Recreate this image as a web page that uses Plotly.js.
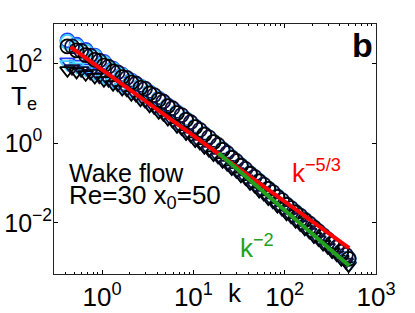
<!DOCTYPE html>
<html>
<head>
<meta charset="utf-8">
<script src="https://cdn.plot.ly/plotly-3.0.1.min.js"></script>
<style>html,body{margin:0;padding:0;background:#fff;}#chart{width:415px;height:313px;}</style>
</head>
<body>
<div id="chart"></div>
<script>
// wavenumber k grids
const kVals = [0.417,0.525,0.661,0.832,1.047,1.318,1.660,2.089,2.630,3.311,4.169,5.248,6.607,8.318,10.47,13.18,16.60,20.89,26.30,33.11,41.69,52.48,66.07,83.18,104.7,131.8,166.0,208.9,263.0,331.1,416.9,501.2];
const kValsB = [0.468,0.589,0.741,0.933,1.175,1.479,1.862,2.344,2.951,3.715,4.677,5.888,7.413,9.333,11.75,14.79,18.62,23.44,29.51,37.15,46.77,58.88,74.13,93.33,117.5,147.9,186.2,234.4,295.1,371.5,467.7];

// log10(T_e) — circle series (blue -> black)
const logTCircle1 = [2.57,2.46,2.33,2.19,2.03,1.86,1.71,1.56,1.42,1.27,1.11,0.94,0.77,0.59,0.41,0.22,0.03,-0.16,-0.36,-0.56,-0.76,-0.95,-1.14,-1.34,-1.54,-1.73,-1.92,-2.11,-2.31,-2.51,-2.71,-2.89];
const logTCircle2 = [2.53,2.42,2.29,2.16,2.00,1.84,1.69,1.54,1.41,1.26,1.10,0.93,0.76,0.59,0.41,0.22,0.03,-0.16,-0.36,-0.56,-0.76,-0.95,-1.14,-1.34,-1.54,-1.73,-1.92,-2.11,-2.31,-2.51,-2.71,-2.89];
const logTCircle3 = [2.42,2.31,2.19,2.06,1.91,1.77,1.63,1.49,1.36,1.20,1.04,0.87,0.70,0.52,0.33,0.14,-0.05,-0.25,-0.45,-0.65,-0.85,-1.04,-1.23,-1.43,-1.63,-1.82,-2.01,-2.21,-2.41,-2.61,-2.80];
const logTCircle4 = [2.42,2.32,2.20,2.08,1.94,1.79,1.65,1.51,1.38,1.24,1.08,0.92,0.75,0.58,0.40,0.21,0.02,-0.17,-0.37,-0.57,-0.77,-0.96,-1.15,-1.35,-1.55,-1.74,-1.93,-2.12,-2.32,-2.52,-2.72,-2.90];

// triangle series (blue -> black)
const logTTri1 = [2.04,1.98,1.89,1.79,1.67,1.54,1.40,1.26,1.11,0.95,0.79,0.61,0.43,0.25,0.07,-0.10,-0.28,-0.45,-0.63,-0.81,-1.00,-1.19,-1.38,-1.57,-1.76,-1.95,-2.14,-2.33,-2.52,-2.71,-2.90,-3.06];
const logTTri2 = [1.97,1.91,1.83,1.74,1.64,1.52,1.39,1.25,1.10,0.94,0.78,0.61,0.43,0.25,0.07,-0.10,-0.28,-0.45,-0.63,-0.81,-1.00,-1.19,-1.38,-1.57,-1.76,-1.95,-2.14,-2.33,-2.52,-2.71,-2.90,-3.06];
const logTTri3 = [1.87,1.82,1.75,1.66,1.57,1.46,1.33,1.20,1.05,0.89,0.72,0.55,0.36,0.18,0.00,-0.18,-0.35,-0.53,-0.71,-0.89,-1.08,-1.28,-1.47,-1.66,-1.85,-2.04,-2.23,-2.42,-2.61,-2.80,-2.98];
const logTTri4 = [1.82,1.78,1.72,1.65,1.57,1.47,1.35,1.22,1.08,0.93,0.77,0.60,0.42,0.24,0.06,-0.11,-0.29,-0.46,-0.64,-0.82,-1.01,-1.20,-1.39,-1.58,-1.77,-1.96,-2.15,-2.34,-2.53,-2.72,-2.91,-3.07];

// reference power laws (endpoints)
const redK = [0.45, 509];
const redT = [257, 0.00234];
const greenK = [18.8, 509];
const greenT = [0.56, 0.00084];

const seriesColors = ['#2040ff', '#40d0ff', '#101038', '#000000'];
const circleSeries = [[kVals, logTCircle1], [kVals, logTCircle2], [kValsB, logTCircle3], [kVals, logTCircle4]];
const triSeries = [[kVals, logTTri1], [kVals, logTTri2], [kValsB, logTTri3], [kVals, logTTri4]];

const toLin = a => a.map(v => Math.pow(10, v));
const traces = [];
triSeries.forEach((s, i) => traces.push({
  x: s[0], y: toLin(s[1]), type: 'scatter', mode: 'markers',
  marker: {symbol: 'triangle-down-open', size: 13, color: seriesColors[i], line: {width: 1.8, color: seriesColors[i]}},
  showlegend: false, hoverinfo: 'skip'
}));
circleSeries.forEach((s, i) => traces.push({
  x: s[0], y: toLin(s[1]), type: 'scatter', mode: 'markers',
  marker: {symbol: 'circle-open', size: 14, color: seriesColors[i], line: {width: 1.8, color: seriesColors[i]}},
  showlegend: false, hoverinfo: 'skip'
}));
traces.push({x: redK, y: redT, type: 'scatter', mode: 'lines', line: {color: '#ff0000', width: 4}, showlegend: false});
traces.push({x: greenK, y: greenT, type: 'scatter', mode: 'lines', line: {color: '#22a01e', width: 4}, showlegend: false});

const xMinor = [0.4,0.5,0.6,0.7,0.8,0.9,2,3,4,5,6,7,8,9,20,30,40,50,60,70,80,90,200,300,400,500,600,700,800,900];
const fontFam = 'Liberation Sans, Arial, Helvetica, sans-serif';
const pad = '\u00a0\u00a0';

const layout = {
  width: 415, height: 313,
  margin: {l: 54, r: 39, t: 24, b: 39},
  paper_bgcolor: '#fff', plot_bgcolor: '#fff',
  font: {family: fontFam, size: 26, color: '#000'},
  xaxis: {
    type: 'log', range: [-0.527, 3.0],
    tickmode: 'array', tickvals: [1, 10, 100, 1000],
    ticktext: ['10<sup>0</sup>', '10<sup>1</sup>', '10<sup>2</sup>', '10<sup>3</sup>'],
    ticks: 'inside', ticklen: 4, tickcolor: '#000', tickwidth: 1,
    showline: true, linecolor: '#222', linewidth: 1, mirror: 'allticks',
    showgrid: false, zeroline: false,
    minor: {tickmode: 'array', tickvals: xMinor, ticks: 'inside', ticklen: 2, tickcolor: '#000', showgrid: false},
    tickfont: {size: 26, family: fontFam}
  },
  yaxis: {
    type: 'log', range: [-3.28, 2.98],
    tickmode: 'array', tickvals: [0.01, 1, 100],
    ticktext: ['10<sup>−2</sup>', '10<sup>0' + pad + '</sup>', '10<sup>2' + pad + '</sup>'],
    ticks: 'inside', ticklen: 4, tickcolor: '#000', tickwidth: 1,
    showline: true, linecolor: '#222', linewidth: 1, mirror: 'allticks',
    showgrid: false, zeroline: false,
    tickfont: {size: 25, family: fontFam},
    ticklabelstandoff: -4
  },
  annotations: [
    {xref: 'paper', yref: 'paper', x: 0.957, y: 0.916, xanchor: 'center', yanchor: 'middle', showarrow: false,
     text: '<b>b</b>', font: {size: 34, family: fontFam, color: '#000'}},
    {xref: 'paper', yref: 'paper', x: -0.093, y: 0.708, xanchor: 'center', yanchor: 'middle', showarrow: false,
     text: 'T<sub>e</sub>', font: {size: 26, family: fontFam, color: '#000'}},
    {xref: 'paper', yref: 'paper', x: 0.562, y: -0.076, xanchor: 'center', yanchor: 'middle', showarrow: false,
     text: 'k', font: {size: 26, family: fontFam, color: '#000'}},
    {xref: 'paper', yref: 'paper', x: 0.040, y: 0.404, xanchor: 'left', yanchor: 'middle', showarrow: false,
     text: 'Wake flow', font: {size: 25, family: fontFam, color: '#000'}},
    {xref: 'paper', yref: 'paper', x: 0.040, y: 0.310, xanchor: 'left', yanchor: 'middle', showarrow: false,
     text: 'Re=30 x<sub>0</sub>=50', font: {size: 26, family: fontFam, color: '#000'}},
    {xref: 'paper', yref: 'paper', x: 0.733, y: 0.412, xanchor: 'left', yanchor: 'middle', showarrow: false,
     text: 'k<sup>−5/3</sup>', font: {size: 26, family: fontFam, color: '#ff0000'}},
    {xref: 'paper', yref: 'paper', x: 0.571, y: 0.112, xanchor: 'left', yanchor: 'middle', showarrow: false,
     text: 'k<sup>−2</sup>', font: {size: 26, family: fontFam, color: '#22a01e'}}
  ]
};

Plotly.newPlot('chart', traces, layout, {displayModeBar: false, staticPlot: true});
</script>
</body>
</html>
